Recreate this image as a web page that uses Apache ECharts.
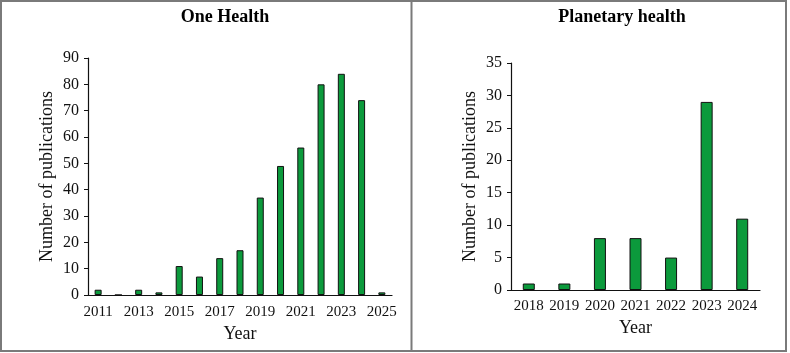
<!DOCTYPE html>
<html><head><meta charset="utf-8">
<script src="https://cdn.jsdelivr.net/npm/echarts@6/dist/echarts.min.js"></script>
<style>html,body{margin:0;padding:0;background:#fff}#c{width:790px;height:353px}</style>
</head><body><div id="c"></div>
<script>
var oneHealthYears = ['2011','2012','2013','2014','2015','2016','2017','2018','2019','2020','2021','2022','2023','2024','2025'];
var oneHealthValues = [2,0,2,1,11,7,14,17,37,49,56,80,84,74,1];
var planetaryYears = ['2018','2019','2020','2021','2022','2023','2024'];
var planetaryValues = [1,1,8,8,5,29,11];
var titles = ['One Health','Planetary health'];
var yAxisName = 'Number of publications';
var xAxisName = 'Year';

var FONT = '"Liberation Serif", "Times New Roman", serif';
var green = '#0c9a3c';
var chart = echarts.init(document.getElementById('c'));

function xAxis(idx, data, interval, labelMargin, nameGap) {
  return {
    type: 'category', gridIndex: idx, data: data,
    name: xAxisName, nameLocation: 'middle', nameGap: nameGap,
    nameTextStyle: {fontFamily: FONT, fontSize: 18, color: '#111'},
    axisLine: {lineStyle: {color: '#111', width: 1.2}},
    axisTick: {alignWithLabel: true, interval: 0, length: 4, lineStyle: {color: '#111'}},
    axisLabel: {interval: interval, fontFamily: FONT, fontSize: 15, color: '#111', margin: labelMargin},
    splitLine: {show: false}
  };
}
function yAxis(idx, max, interval, nameGap) {
  return {
    type: 'value', gridIndex: idx, min: 0, max: max, interval: interval,
    name: yAxisName, nameLocation: 'middle', nameGap: nameGap,
    nameTextStyle: {fontFamily: FONT, fontSize: 18, color: '#111'},
    axisLine: {show: true, lineStyle: {color: '#111', width: 1.2}},
    axisTick: {show: true, length: 4, lineStyle: {color: '#111'}},
    axisLabel: {fontFamily: FONT, fontSize: 16, color: '#111', margin: 9},
    splitLine: {show: false}
  };
}

chart.setOption({
  animation: false,
  backgroundColor: '#fff',
  title: [
    {text: titles[0], left: 220, top: 3, textAlign: 'center',
     textStyle: {fontFamily: FONT, fontSize: 18, fontWeight: 'bold', color: '#000'}},
    {text: titles[1], left: 617, top: 3, textAlign: 'center',
     textStyle: {fontFamily: FONT, fontSize: 18, fontWeight: 'bold', color: '#000'}}
  ],
  grid: [
    {left: 88, top: 58, width: 304, height: 237},
    {left: 511, top: 63, width: 249, height: 227}
  ],
  xAxis: [
    xAxis(0, oneHealthYears, 1, 10, 27),
    xAxis(1, planetaryYears, 0, 9, 28)
  ],
  yAxis: [
    yAxis(0, 90, 10, 32),
    yAxis(1, 35, 5, 32)
  ],
  series: [
    {type: 'bar', xAxisIndex: 0, yAxisIndex: 0, data: oneHealthValues, barWidth: 7,
     itemStyle: {color: green, borderColor: '#111', borderWidth: 1}},
    {type: 'bar', xAxisIndex: 1, yAxisIndex: 1, data: planetaryValues, barWidth: 12,
     itemStyle: {color: green, borderColor: '#111', borderWidth: 1}}
  ],
  graphic: [
    {type: 'rect', shape: {x: 1, y: 1, width: 785, height: 350},
     style: {fill: 'none', stroke: '#7a7a7a', lineWidth: 2}, silent: true},
    {type: 'line', shape: {x1: 411.5, y1: 1, x2: 411.5, y2: 351},
     style: {stroke: '#7a7a7a', lineWidth: 2}, silent: true}
  ]
});
</script></body></html>
